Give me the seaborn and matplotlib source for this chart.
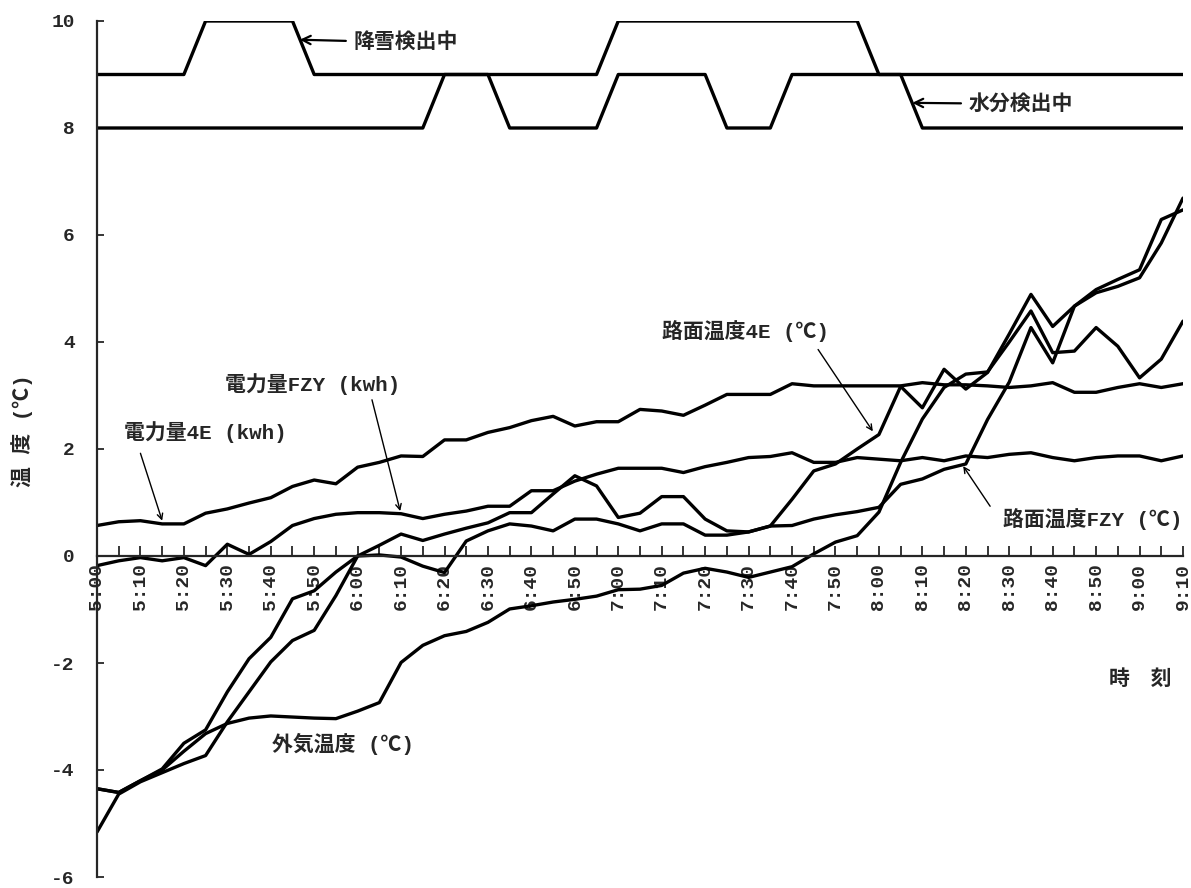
import numpy as np
import pandas as pd
import matplotlib
matplotlib.use("Agg")
import matplotlib.pyplot as plt
import seaborn as sns

# ---- data (minutes after 5:00, every 5 min) ----
minutes = np.arange(0, 251, 5)
tick_minutes = np.arange(0, 251, 10)
tick_labels = ["5:00", "5:10", "5:20", "5:30", "5:40", "5:50", "6:00", "6:10", "6:20",
               "6:30", "6:40", "6:50", "7:00", "7:10", "7:20", "7:30", "7:40", "7:50",
               "8:00", "8:10", "8:20", "8:30", "8:40", "8:50", "9:00", "9:10"]

snow = [9, 9, 9, 9, 9, 10, 10, 10, 10, 10,
        9, 9, 9, 9, 9, 9, 9, 9, 9, 9, 9, 9, 9, 9,
        10, 10, 10, 10, 10, 10, 10, 10, 10, 10, 10, 10,
        9, 9, 9, 9, 9, 9, 9, 9, 9, 9, 9, 9, 9, 9, 9]
water = [8, 8, 8, 8, 8, 8, 8, 8, 8, 8, 8, 8, 8, 8, 8, 8,
         9, 9, 9,
         8, 8, 8, 8, 8,
         9, 9, 9, 9, 9,
         8, 8, 8,
         9, 9, 9, 9, 9, 9,
         8, 8, 8, 8, 8, 8, 8, 8, 8, 8, 8, 8, 8]
power_4e = [0.57, 0.64, 0.66, 0.60, 0.60, 0.80, 0.88, 0.99, 1.09, 1.30,
            1.42, 1.35, 1.66, 1.75, 1.87, 1.86, 2.17, 2.17, 2.31, 2.40,
            2.53, 2.61, 2.43, 2.51, 2.51, 2.74, 2.71, 2.63, 2.82, 3.02,
            3.02, 3.02, 3.22, 3.18, 3.18, 3.18, 3.18, 3.18, 3.24, 3.20,
            3.20, 3.18, 3.15, 3.18, 3.24, 3.06, 3.06, 3.15, 3.22, 3.15, 3.22]
power_fzy = [-0.18, -0.09, -0.03, -0.09, -0.03, -0.18, 0.22, 0.03, 0.27, 0.57,
             0.70, 0.78, 0.81, 0.81, 0.79, 0.70, 0.78, 0.84, 0.93, 0.93,
             1.22, 1.22, 1.40, 1.53, 1.64, 1.64, 1.64, 1.56, 1.67, 1.75,
             1.84, 1.86, 1.93, 1.75, 1.75, 1.84, 1.81, 1.78, 1.84, 1.78,
             1.87, 1.84, 1.90, 1.93, 1.84, 1.78, 1.84, 1.87, 1.87, 1.78, 1.87]
road_4e = [-4.35, -4.42, -4.20, -3.98, -3.50, -3.25, -2.54, -1.92, -1.52, -0.80,
           -0.65, -0.30, 0.00, 0.20, 0.41, 0.29, 0.41, 0.52, 0.62, 0.81,
           0.81, 1.16, 1.50, 1.31, 0.72, 0.80, 1.11, 1.11, 0.69, 0.47,
           0.45, 0.56, 1.06, 1.59, 1.72, 2.00, 2.27, 3.17, 2.77, 3.49,
           3.12, 3.43, 4.15, 4.89, 4.29, 4.67, 4.98, 5.17, 5.35, 6.29, 6.47]
road_fzy = [-5.16, -4.45, -4.22, -4.05, -3.88, -3.73, -3.10, -2.54, -1.98, -1.58,
            -1.39, -0.74, 0.00, 0.02, -0.02, -0.19, -0.31, 0.28, 0.47, 0.60,
            0.56, 0.47, 0.69, 0.69, 0.60, 0.47, 0.60, 0.60, 0.39, 0.39,
            0.45, 0.56, 0.57, 0.69, 0.77, 0.83, 0.91, 1.34, 1.44, 1.62,
            1.72, 2.55, 3.25, 4.27, 3.61, 4.67, 4.92, 5.04, 5.20, 5.85, 6.69]
outside = [-4.35, -4.42, -4.20, -4.00, -3.65, -3.32, -3.13, -3.03, -2.99, -3.01,
           -3.03, -3.04, -2.90, -2.74, -1.99, -1.67, -1.49, -1.41, -1.24, -0.99,
           -0.93, -0.86, -0.81, -0.75, -0.63, -0.62, -0.55, -0.32, -0.23, -0.30,
           -0.40, -0.30, -0.20, 0.04, 0.26, 0.38, 0.82, 1.75, 2.56, 3.15,
           3.40, 3.44, 4.00, 4.58, 3.80, 3.83, 4.27, 3.92, 3.33, 3.68, 4.39]

series = {"降雪検出中": snow, "水分検出中": water, "電力量4E": power_4e,
          "電力量FZY": power_fzy, "路面温度4E": road_4e, "路面温度FZY": road_fzy,
          "外気温度": outside}
df = pd.DataFrame([{"t": m, "series": name, "v": val}
                   for name, vals in series.items() for m, val in zip(minutes, vals)])

# ---- style ----
sns.set_style("ticks")
plt.rcParams["font.family"] = ["Liberation Mono", "Noto Sans CJK JP", "DejaVu Sans"]
plt.rcParams["axes.unicode_minus"] = False

W, H = 1191, 888
fig = plt.figure(figsize=(W / 100, H / 100), dpi=100)
ax = fig.add_axes([97 / W, 1 - 877 / H, (1183 - 97) / W, (877 - 21) / H])

sns.lineplot(data=df, x="t", y="v", units="series", estimator=None, color="black",
             linewidth=2.4, ax=ax, legend=False, sort=False)

ax.set_xlim(0, 250)
ax.set_ylim(-6, 10)
ax.spines["top"].set_visible(False)
ax.spines["right"].set_visible(False)
ax.spines["bottom"].set_position(("data", 0))
ax.spines["bottom"].set_linewidth(1.6)
ax.spines["left"].set_linewidth(1.6)

ax.set_yticks(np.arange(-6, 11, 2))
ax.set_yticklabels([str(v) for v in range(-6, 11, 2)],
                   family="Liberation Mono", weight="bold", fontsize=14)
ax.set_xticks(tick_minutes)
ax.set_xticks(minutes, minor=True)
ax.set_xticklabels(tick_labels, rotation=90, family="Liberation Mono",
                   weight="bold", fontsize=14, va="top", ha="center")
ax.tick_params(axis="x", which="both", direction="in", length=7, width=1.3, pad=5)
ax.tick_params(axis="y", direction="in", length=5, width=1.3, pad=16)
ax.set_xlabel("")
ax.set_ylabel("")

# ---- annotations ----
tf = dict(family=["Liberation Mono", "Noto Sans CJK JP"], weight="bold", fontsize=15)
arw = dict(arrowstyle="->", color="black", lw=1.0, shrinkA=0, shrinkB=0)
ax.annotate("降雪検出中", xy=(46.7, 9.65), xytext=(59.0, 9.6), va="center", ha="left",
            arrowprops=dict(arrowstyle="->", color="black", lw=1.6, shrinkA=3, shrinkB=0), **tf)
ax.annotate("水分検出中", xy=(187.7, 8.47), xytext=(200.6, 8.45), va="center", ha="left",
            arrowprops=dict(arrowstyle="->", color="black", lw=1.6, shrinkA=3, shrinkB=0), **tf)
ax.text(29.5, 3.21, "電力量FZY (kwh)", va="center", ha="left", **tf)
ax.annotate("", xy=(69.8, 0.84), xytext=(63.3, 2.92), arrowprops=arw)
ax.text(6.2, 2.31, "電力量4E (kwh)", va="center", ha="left", **tf)
ax.annotate("", xy=(15.0, 0.66), xytext=(10.0, 1.92), arrowprops=arw)
ax.text(130.1, 4.2, "路面温度4E (℃)", va="center", ha="left", **tf)
ax.annotate("", xy=(178.6, 2.33), xytext=(166.0, 3.86), arrowprops=arw)
ax.text(208.5, 0.69, "路面温度FZY (℃)", va="center", ha="left", **tf)
ax.annotate("", xy=(199.4, 1.68), xytext=(205.6, 0.93), arrowprops=arw)
ax.text(40.3, -3.51, "外気温度 (℃)", va="center", ha="left", **tf)

fig.text(22 / W, 1 - 431 / H, "温 度 (℃)", rotation=90, ha="center", va="center",
         family=["Liberation Mono", "Noto Sans CJK JP"], weight="bold", fontsize=15)
fig.text(1140 / W, 1 - 678 / H, "時　刻", ha="center", va="center",
         family=["Noto Sans CJK JP"], weight="bold", fontsize=15)

fig.savefig("out.png", dpi=100, facecolor="white")
